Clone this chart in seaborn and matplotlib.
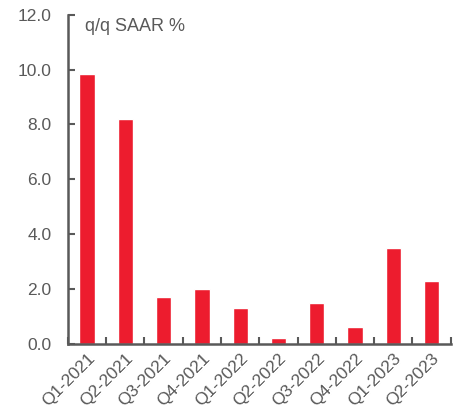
import matplotlib
matplotlib.use("Agg")
import matplotlib.pyplot as plt
import seaborn as sns
import pandas as pd
import numpy as np
from matplotlib.ticker import FixedLocator, FormatStrFormatter

quarters = ["Q1-2021", "Q2-2021", "Q3-2021", "Q4-2021", "Q1-2022",
            "Q2-2022", "Q3-2022", "Q4-2022", "Q1-2023", "Q2-2023"]
growth = [9.85, 8.2, 1.7, 2.0, 1.3, 0.2, 1.5, 0.6, 3.5, 2.3]
y_ticks = [0, 2, 4, 6, 8, 10, 12]

sns.set_theme(style="white")
plt.rcParams["font.family"] = ["Liberation Sans", "DejaVu Sans"]

grey = "#595959"
red = "#ED1C2E"

df = pd.DataFrame({"quarter": quarters, "growth": growth})

fig = plt.figure(figsize=(4.59, 4.12), dpi=100)
ax = fig.add_axes([0.148, 0.166, 0.834, 0.798])

sns.barplot(data=df, x="quarter", y="growth", color=red, width=0.4,
            saturation=1, ax=ax)

ax.set_xlim(-0.5, len(quarters) - 0.5)
ax.set_ylim(0, 12)
ax.set_yticks(y_ticks)
ax.yaxis.set_major_formatter(FormatStrFormatter("%.1f"))

ax.set_xlabel("")
ax.set_ylabel("")

# category separators as inward minor ticks on the x axis
ax.xaxis.set_minor_locator(FixedLocator(np.arange(-0.5, len(quarters), 1.0)))
ax.tick_params(axis="x", which="major", length=0, pad=5, labelsize=12.5,
               labelcolor=grey)
ax.tick_params(axis="x", which="minor", direction="in", length=5, width=1.5,
               color=grey, bottom=True)
ax.tick_params(axis="y", which="major", direction="in", length=5, width=1.5,
               color=grey, left=True, labelsize=12.5, labelcolor=grey, pad=12)

for lbl in ax.get_xticklabels():
    lbl.set_rotation(45)
    lbl.set_ha("right")
    lbl.set_va("top")
    lbl.set_rotation_mode("anchor")

for side in ["top", "right"]:
    ax.spines[side].set_visible(False)
for side in ["left", "bottom"]:
    ax.spines[side].set_color(grey)
    ax.spines[side].set_linewidth(1.8)

ax.text(0.045, 0.99, "q/q SAAR %", transform=ax.transAxes, ha="left",
        va="top", fontsize=13, color=grey)

fig.savefig("out.png", dpi=100)
